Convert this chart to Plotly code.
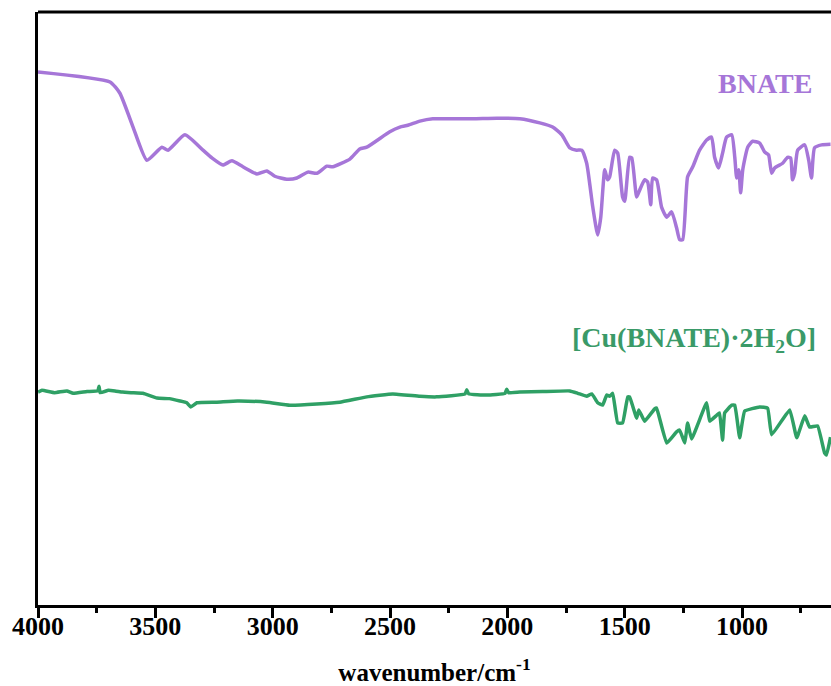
import plotly.graph_objects as go

# BNATE spectrum (wavenumber cm^-1, transmittance a.u.)
bnate_wn = [4000, 3693, 3651, 3595, 3536, 3472, 3446, 3374, 3297, 3259, 3212, 3174, 3127, 3067,
            3025, 2991, 2940, 2897, 2850, 2812, 2769, 2744, 2671, 2629, 2599, 2501, 2458, 2424,
            2373, 2318, 2245, 2147, 2045, 1947, 1862, 1807, 1768, 1734, 1705, 1683, 1662, 1636,
            1615, 1602, 1585, 1573, 1564, 1543, 1530, 1509, 1500, 1479, 1470, 1449, 1436, 1415,
            1402, 1389, 1381, 1364, 1343, 1321, 1300, 1279, 1266, 1253, 1232, 1210, 1181, 1151,
            1130, 1117, 1100, 1083, 1066, 1044, 1031, 1023, 1014, 1006, 997, 976, 955, 925,
            904, 887, 874, 861, 827, 806, 793, 785, 776, 763, 733, 716, 704, 691, 661, 623]
bnate_t = [89.9, 88.2, 86.3, 80.6, 75.0, 77.2, 76.7, 79.3, 76.7, 75.4, 74.2, 74.9, 73.9, 72.7,
           73.2, 72.3, 71.8, 72.0, 73.0, 72.8, 74.0, 73.9, 75.2, 76.9, 77.2, 79.8, 80.6, 80.9,
           81.6, 82.0, 82.0, 82.0, 82.1, 82.0, 81.3, 80.6, 79.3, 77.1, 76.7, 76.7, 74.5, 67.1,
           62.4, 65.4, 73.4, 71.7, 72.2, 76.7, 76.2, 68.8, 68.1, 75.5, 75.4, 68.8, 70.0, 71.7,
           71.3, 67.5, 72.0, 71.7, 67.1, 65.4, 66.3, 63.6, 61.6, 61.6, 72.2, 73.9, 76.7, 78.4,
           78.9, 75.5, 73.7, 76.2, 78.9, 79.3, 75.5, 72.0, 73.4, 69.5, 73.4, 77.2, 78.2, 77.9,
           76.4, 75.9, 72.8, 73.7, 74.5, 75.5, 75.4, 71.7, 72.8, 76.7, 77.6, 75.0, 72.0, 77.1, 77.6, 77.7]

# [Cu(BNATE)·2H2O] spectrum
cu_wn = [4000, 3983, 3930, 3877, 3850, 3791, 3745, 3740, 3735, 3700, 3672, 3640, 3600, 3553,
         3493, 3440, 3395, 3366, 3349, 3323, 3238, 3150, 3025, 2927, 2812, 2714, 2599, 2488,
         2373, 2301, 2180, 2173, 2165, 2088, 2010, 2003, 1995, 1947, 1850, 1734, 1700, 1662,
         1640, 1615, 1594, 1577, 1564, 1551, 1530, 1509, 1487, 1479, 1449, 1440, 1415, 1372,
         1364, 1321, 1279, 1266, 1244, 1232, 1215, 1151, 1138, 1108, 1096, 1083, 1074, 1044,
         1031, 1010, 989, 925, 891, 874, 797, 767, 733, 712, 678, 648, 640, 623]
cu_t = [35.9, 36.2, 35.8, 36.1, 35.7, 36.0, 36.1, 36.9, 35.8, 36.2, 36.1, 35.9, 35.8, 35.7,
        34.9, 34.8, 34.4, 34.1, 33.4, 34.1, 34.2, 34.4, 34.2, 33.7, 33.9, 34.2, 35.1, 35.6,
        35.2, 35.1, 35.6, 36.3, 35.6, 35.4, 35.7, 36.4, 35.8, 35.9, 36.0, 36.1, 35.7, 35.2,
        35.6, 34.1, 33.7, 35.4, 35.2, 35.7, 30.7, 30.7, 35.1, 35.1, 31.5, 32.9, 31.0, 33.1,
        33.2, 27.3, 29.2, 29.5, 27.3, 30.7, 28.0, 34.1, 31.0, 32.0, 32.4, 27.8, 32.4, 33.7,
        33.7, 28.2, 32.7, 33.4, 33.2, 28.7, 32.9, 28.2, 31.9, 30.0, 30.2, 25.6, 25.3, 28.3]

labels = ["BNATE", "[Cu(BNATE)·2H<sub>2</sub>O]"]
label_pos_wn = [904, 1206]
label_pos_t = [88.0, 44.7]

x_ticks = [4000, 3500, 3000, 2500, 2000, 1500, 1000]

purple = "#a676d8"
green = "#2fa065"
label_green = "#3a9a68"

fig = go.Figure()
fig.add_trace(go.Scatter(x=bnate_wn, y=bnate_t, mode="lines",
                         line=dict(color=purple, width=3.5, shape="spline", smoothing=0.5),
                         showlegend=False))
fig.add_trace(go.Scatter(x=cu_wn, y=cu_t, mode="lines",
                         line=dict(color=green, width=3.5, shape="spline", smoothing=0.3),
                         showlegend=False))

serif = "Liberation Serif"
fig.add_annotation(x=label_pos_wn[0], y=label_pos_t[0], text="<b>" + labels[0] + "</b>",
                   showarrow=False, font=dict(family=serif, size=28, color=purple))
fig.add_annotation(x=label_pos_wn[1], y=label_pos_t[1], text="<b>" + labels[1] + "</b>",
                   showarrow=False, font=dict(family=serif, size=28, color=label_green))

fig.add_shape(type="line", xref="paper", yref="paper", x0=0, x1=1, y0=1, y1=1,
              line=dict(color="black", width=3))

fig.update_layout(
    width=831, height=686,
    margin=dict(l=38, r=0, t=12, b=81, autoexpand=False),
    plot_bgcolor="white", paper_bgcolor="white",
    xaxis=dict(range=[4000, 621], tickvals=x_ticks, ticktext=[str(v) for v in x_ticks],
               automargin=False,
               showline=True, linecolor="black", linewidth=3, mirror=False,
               ticks="outside", ticklen=10, tickwidth=3, tickcolor="black",
               minor=dict(dtick=250, tick0=0, ticks="outside", ticklen=5, tickwidth=3, tickcolor="black"),
               showgrid=False, zeroline=False, ticklabelstandoff=-14,
               tickfont=dict(family=serif, size=26, color="black", weight="bold"),
               title=dict(text="<b>wavenumber/cm<sup>-1</sup></b>",
                          font=dict(family=serif, size=25, color="black"), standoff=33)),
    yaxis=dict(range=[0, 100], showline=True, linecolor="black", linewidth=3, automargin=False,
               showticklabels=False, ticks="", showgrid=False, zeroline=False),
)

fig.write_html("out.html", config={"displayModeBar": False},
               post_script="document.body.style.margin='0';document.body.style.overflow='hidden';")
